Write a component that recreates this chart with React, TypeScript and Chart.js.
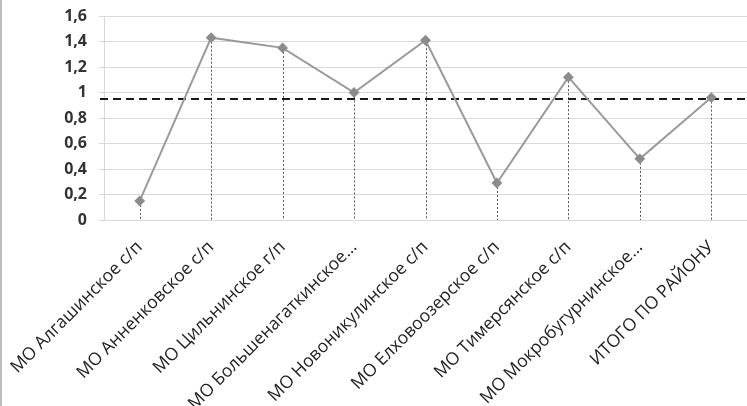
import { useEffect, useRef } from "react";
import { Chart, registerables } from "chart.js";

Chart.register(...registerables);

const categories = [
  "МО Алгашинское с/п",
  "МО Анненковское с/п",
  "МО Цильнинское г/п",
  "МО Большенагаткинское…",
  "МО Новоникулинское с/п",
  "МО Елховоозерское с/п",
  "МО Тимерсянское с/п",
  "МО Мокробугурнинское…",
  "ИТОГО ПО РАЙОНУ",
];
const values = [0.15, 1.43, 1.35, 1.0, 1.41, 0.29, 1.12, 0.48, 0.96];
const averageLevel = 0.95;
const yMin = 0;
const yMax = 1.6;
const yStep = 0.2;

const guidesPlugin = {
  id: "guides",
  beforeDatasetsDraw(chart: any) {
    const { ctx, chartArea, scales } = chart;
    const meta = chart.getDatasetMeta(0);
    ctx.save();
    ctx.strokeStyle = "#555";
    ctx.lineWidth = 1;
    ctx.setLineDash([2, 2]);
    meta.data.forEach((pt: any) => {
      const x = Math.round(pt.x) + 0.5;
      ctx.beginPath();
      ctx.moveTo(x, pt.y);
      ctx.lineTo(x, chartArea.bottom);
      ctx.stroke();
    });
    const y = scales.y.getPixelForValue(averageLevel);
    ctx.strokeStyle = "#1a1a1a";
    ctx.lineWidth = 2;
    ctx.setLineDash([8, 5]);
    ctx.beginPath();
    ctx.moveTo(chartArea.left - 4, y);
    ctx.lineTo(chartArea.right, y);
    ctx.stroke();
    ctx.restore();
  },
  afterDraw(chart: any) {
    const { ctx, height } = chart;
    ctx.save();
    ctx.strokeStyle = "#bdbdbd";
    ctx.lineWidth = 2;
    ctx.beginPath();
    ctx.moveTo(1, 0);
    ctx.lineTo(1, height);
    ctx.stroke();
    ctx.restore();
  },
};

export default function App() {
  const ref = useRef<HTMLCanvasElement | null>(null);

  useEffect(() => {
    if (!ref.current) return;
    const chart = new Chart(ref.current, {
      type: "line",
      data: {
        labels: categories,
        datasets: [
          {
            data: values,
            borderColor: "#9a9a9a",
            borderWidth: 2,
            pointStyle: "rectRot",
            pointRadius: 4,
            pointBackgroundColor: "#8c8c8c",
            pointBorderColor: "#8c8c8c",
            tension: 0,
            clip: false,
          },
        ],
      },
      options: {
        animation: false,
        responsive: true,
        maintainAspectRatio: false,
        layout: { autoPadding: false, padding: { top: 16, right: 0, bottom: 0, left: 0 } },
        plugins: { legend: { display: false }, tooltip: { enabled: false } },
        scales: {
          x: {
            offset: true,
            grid: { display: false },
            border: { display: true, color: "#d9d9d9" },
            ticks: {
              autoSkip: false,
              minRotation: 45,
              maxRotation: 45,
              padding: 9,
              color: "#222",
              font: { family: "'Open Sans'", size: 17.5 },
            },
            afterFit(scale: any) {
              scale.height = 186;
              scale.paddingRight = 0;
              scale.paddingLeft = 0;
            },
          },
          y: {
            min: yMin,
            max: yMax,
            grid: { color: "#d9d9d9", tickLength: 5 },
            border: { display: true, color: "#d9d9d9" },
            ticks: {
              stepSize: yStep,
              padding: 12,
              color: "#333",
              font: { family: "'Open Sans'", size: 16, weight: "bold" },
              callback: (v: any) => Number(Number(v).toFixed(1)).toString().replace(".", ","),
            },
            afterFit(scale: any) {
              scale.width = 104;
              scale.paddingTop = 0;
              scale.paddingBottom = 0;
            },
          },
        },
      },
      plugins: [guidesPlugin],
    });
    return () => chart.destroy();
  }, []);

  return (
    <div style={{ position: "fixed", left: 0, top: 0, width: 747, height: 406, background: "#fff" }}>
      <canvas ref={ref} />
    </div>
  );
}
